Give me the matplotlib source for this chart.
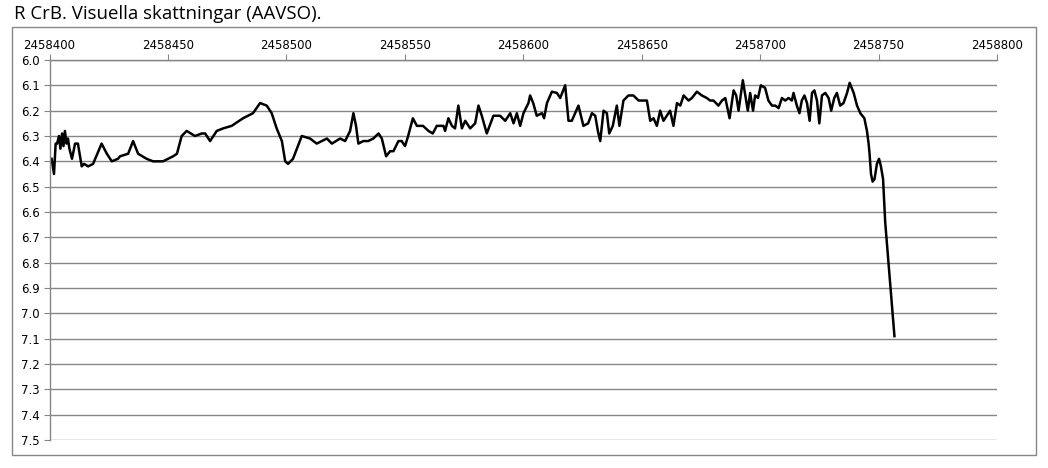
import matplotlib.pyplot as plt
from matplotlib.patches import Rectangle

# ----------------------------
# Data: days after JD 2458400, visual magnitude
# ----------------------------
jd_base = 2458400
days = [
    0.9, 1.9, 2.6, 3.2, 4.0, 4.6, 5.3, 5.9, 6.5, 7.2, 7.8, 8.4, 9.5, 10.8, 12.0,
    13.6, 14.6, 16.3, 18.4, 22.0, 24.2, 26.3, 28.9, 29.8, 33.2, 35.3, 37.4, 41.0,
    43.7, 47.9, 52.2, 53.8, 55.8, 57.9, 61.4, 64.3, 65.7, 67.8, 70.6, 73.3, 76.9,
    81.7, 85.9, 88.9, 91.7, 93.8, 95.9, 98.1, 99.5, 100.7, 102.8, 106.5, 110.0,
    112.8, 114.9, 117.1, 119.2, 122.7, 124.8, 126.9, 128.3, 129.4, 130.4, 132.5,
    134.5, 136.7, 138.9, 140.3, 142.1, 143.8, 145.2, 147.3, 148.7, 150.1, 151.4,
    153.4, 155.1, 157.7, 160.0, 161.8, 163.5, 166.3, 167.0, 168.4, 169.9, 171.2,
    172.6, 174.1, 175.5, 177.6, 179.7, 181.1, 182.5, 184.6, 187.4, 190.2, 192.4,
    194.5, 195.9, 197.3, 198.7, 200.1, 202.2, 202.9, 204.2, 205.7, 207.9, 208.8,
    210.0, 212.1, 214.2, 215.6, 217.7, 219.1, 220.5, 223.3, 225.4, 227.4, 229.0,
    230.4, 231.5, 232.5, 233.9, 235.3, 236.3, 237.8, 239.5, 240.6, 242.3, 244.4,
    246.5, 248.7, 250.8, 252.2, 253.6, 255.0, 256.4, 257.8, 259.2, 260.6, 262.0,
    263.4, 264.9, 266.3, 267.7, 269.8, 271.2, 273.3, 275.4, 277.5, 278.9, 280.3,
    282.4, 283.9, 285.3, 287.1, 288.8, 289.9, 290.9, 292.7, 294.1, 294.8, 295.8,
    297.0, 297.9, 299.1, 300.3, 302.1, 303.5, 305.0, 306.4, 307.8, 309.2, 310.6,
    312.0, 313.4, 314.1, 315.5, 316.6, 317.6, 318.7, 319.8, 320.9, 321.9, 322.9,
    324.0, 325.0, 326.1, 327.5, 328.9, 330.0, 331.3, 332.4, 333.8, 335.2, 336.7,
    337.8, 339.5, 340.9, 342.3, 344.0, 345.1, 345.8, 346.2, 346.8, 347.5, 348.3,
    349.3, 350.2, 351.0, 351.9, 352.8, 354.2, 355.7, 356.7,
]
mag = [
    6.39, 6.45, 6.33, 6.33, 6.30, 6.35, 6.29, 6.34, 6.28, 6.33, 6.31, 6.35, 6.39, 6.33, 6.33,
    6.42, 6.41, 6.42, 6.41, 6.33, 6.37, 6.40, 6.39, 6.38, 6.37, 6.32, 6.37, 6.39,
    6.40, 6.40, 6.38, 6.37, 6.30, 6.28, 6.30, 6.29, 6.29, 6.32, 6.28, 6.27, 6.26,
    6.23, 6.21, 6.17, 6.18, 6.21, 6.27, 6.32, 6.40, 6.41, 6.39, 6.30, 6.31,
    6.33, 6.32, 6.31, 6.33, 6.31, 6.32, 6.28, 6.21, 6.26, 6.33, 6.32,
    6.32, 6.31, 6.29, 6.31, 6.38, 6.36, 6.36, 6.32, 6.32, 6.34, 6.30,
    6.23, 6.26, 6.26, 6.28, 6.29, 6.26, 6.26, 6.28, 6.23, 6.26, 6.27,
    6.18, 6.27, 6.24, 6.27, 6.25, 6.18, 6.22, 6.29, 6.22, 6.22, 6.24,
    6.21, 6.25, 6.21, 6.26, 6.21, 6.17, 6.14, 6.17, 6.22, 6.21, 6.23,
    6.17, 6.125, 6.13, 6.15, 6.10, 6.24, 6.24, 6.18, 6.26, 6.25, 6.21,
    6.22, 6.28, 6.32, 6.20, 6.21, 6.29, 6.26, 6.18, 6.26, 6.16, 6.14,
    6.14, 6.16, 6.16, 6.16, 6.24, 6.23, 6.26, 6.20, 6.24, 6.22, 6.20,
    6.26, 6.17, 6.18, 6.14, 6.16, 6.15, 6.125, 6.14, 6.15, 6.16, 6.16,
    6.18, 6.16, 6.15, 6.23, 6.12, 6.14, 6.20, 6.08, 6.16, 6.20, 6.13,
    6.20, 6.14, 6.15, 6.10, 6.11, 6.16, 6.18, 6.18, 6.19, 6.15, 6.16,
    6.15, 6.16, 6.13, 6.18, 6.21, 6.16, 6.14, 6.17, 6.24, 6.13, 6.12,
    6.16, 6.25, 6.14, 6.13, 6.15, 6.20, 6.15, 6.13, 6.18, 6.17, 6.13,
    6.09, 6.13, 6.18, 6.21, 6.23, 6.28, 6.33, 6.37, 6.45, 6.48, 6.47,
    6.41, 6.39, 6.42, 6.47, 6.64, 6.80, 6.97, 7.09,
]
jd = [jd_base + d for d in days]

x_ticks = list(range(2458400, 2458801, 50))
y_ticks = [6.0 + i / 10 for i in range(16)]
title = "R CrB. Visuella skattningar (AAVSO)."

# ----------------------------
# Plot
# ----------------------------
grey = "#868686"
fig = plt.figure(figsize=(10.48, 4.68), dpi=100)
fig.patches.append(Rectangle((12 / 1048, 1 - 455 / 468), 1024 / 1048, 428 / 468,
                             transform=fig.transFigure, fill=False,
                             edgecolor=grey, linewidth=1.0))
fig.text(14 / 1048, 1 - 14 / 468, title, fontsize=13.4, family="Open Sans",
         ha="left", va="center")

ax = fig.add_axes([49.5 / 1048, 1 - 440 / 468, 947.5 / 1048, 380 / 468])
ax.plot(jd, mag, color="black", linewidth=1.8, solid_joinstyle="round")

ax.set_xlim(2458400, 2458800)
ax.set_ylim(7.5, 6.0)
ax.set_xticks(x_ticks)
ax.set_xticklabels([str(t) for t in x_ticks])
ax.set_yticks(y_ticks)
ax.set_yticklabels([f"{t:.1f}" for t in y_ticks])
ax.xaxis.tick_top()
ax.tick_params(axis="x", direction="out", length=4, color=grey, labelsize=8.5, pad=2)
ax.tick_params(axis="y", direction="out", length=4, color=grey, labelsize=8.5, pad=3)
ax.grid(axis="y", color=grey, linewidth=1.0)
ax.set_axisbelow(True)
for side in ("right", "bottom"):
    ax.spines[side].set_visible(False)
for side in ("top", "left"):
    ax.spines[side].set_color(grey)
    ax.spines[side].set_linewidth(1.0)

plt.savefig("out.png", dpi=100)
